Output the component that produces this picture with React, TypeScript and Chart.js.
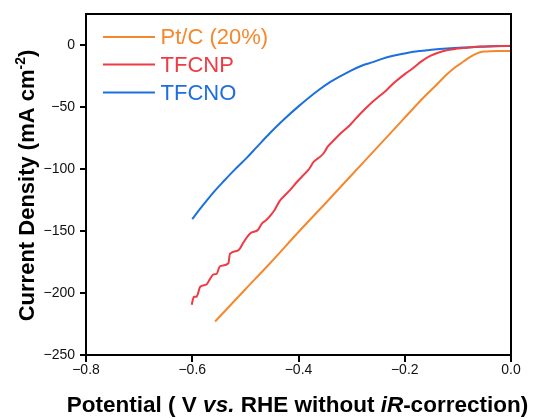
import { useEffect, useRef } from 'react';
import { Chart, registerables } from 'chart.js';

Chart.register(...registerables);

const seriesNames = ['Pt/C (20%)', 'TFCNP', 'TFCNO'];
const seriesColors = ['#F5882C', '#EE3B44', '#1D6FDE'];

const ptcPotential = [-0.557, -0.5, -0.4536, -0.4, -0.35, -0.3, -0.25, -0.203, -0.165, -0.14, -0.121, -0.105, -0.09, -0.075, -0.065, -0.058, -0.05, -0.04, -0.02, 0];
const ptcCurrent = [-223, -197, -176, -150.8, -128, -104.8, -81.8, -60, -42.5, -32, -23.8, -18, -13.5, -9.2, -7, -5.9, -5.3, -5, -4.9, -4.8];

const tfcnpPotential = [-0.601, -0.597, -0.592, -0.585, -0.573, -0.567, -0.56, -0.554, -0.548, -0.532, -0.529, -0.515, -0.51, -0.504, -0.491, -0.476, -0.469, -0.46, -0.45, -0.445, -0.435, -0.425, -0.416, -0.403, -0.391, -0.38, -0.372, -0.362, -0.353, -0.345, -0.334, -0.32, -0.303, -0.285, -0.265, -0.247, -0.234, -0.22, -0.2, -0.184, -0.168, -0.152, -0.136, -0.121, -0.105, -0.09, -0.074, -0.058, -0.04, -0.02, 0];
const tfcnpCurrent = [-209.5, -203, -203, -195, -193, -189, -185, -184.5, -178.5, -176, -168.5, -166, -164, -159.5, -152, -149, -144, -141, -136, -133, -125.5, -121, -117, -110.5, -105, -100, -94.5, -91, -87.5, -82, -77, -71, -64.5, -56, -47.5, -41, -36.2, -30.5, -23.5, -18.5, -13, -8.8, -6, -4.2, -3.2, -2.5, -1.8, -1.3, -1, -0.8, -0.7];

const tfcnoPotential = [-0.6, -0.585, -0.5604, -0.54, -0.52, -0.4975, -0.48, -0.4536, -0.4286, -0.4, -0.3657, -0.34, -0.3031, -0.28, -0.26, -0.247, -0.2278, -0.2, -0.184, -0.15, -0.121, -0.09, -0.058, -0.03, 0];
const tfcnoCurrent = [-140.5, -132, -119, -109.5, -100.5, -91, -83, -71, -60.5, -49.5, -37.5, -29.8, -21, -16.5, -13.8, -11.8, -9.2, -6.8, -5.5, -3.9, -2.8, -2, -1.5, -1.1, -0.8];

const xTickValues = [-0.8, -0.6, -0.4, -0.2, 0];
const yTickValues = [-250, -200, -150, -100, -50, 0];

const xTitleParts: [string, boolean][] = [
  ['Potential ( V ', false],
  ['vs.', true],
  [' RHE without ', false],
  ['iR', true],
  ['-correction)', false],
];
const yTitleMain = 'Current Density (mA cm';
const yTitleSup = '-2';
const yTitleEnd = ')';

const FONT = '"Liberation Sans", Arial, Helvetica, sans-serif';

function toPoints(xs: number[], ys: number[]) {
  return xs.map((x, i) => ({ x, y: ys[i] }));
}

const decorPlugin = {
  id: 'decor',
  afterDraw(chart: any) {
    const { ctx, chartArea } = chart;
    const { left, right, top, bottom } = chartArea;
    ctx.save();
    // frame
    ctx.strokeStyle = '#000';
    ctx.lineWidth = 2;
    ctx.strokeRect(left, top, right - left, bottom - top);

    // legend
    const legendY = [37, 64.5, 92.5];
    seriesNames.forEach((name, i) => {
      ctx.strokeStyle = seriesColors[i];
      ctx.lineWidth = 2;
      ctx.beginPath();
      ctx.moveTo(103, legendY[i]);
      ctx.lineTo(155, legendY[i]);
      ctx.stroke();
      ctx.fillStyle = seriesColors[i];
      ctx.font = `22px ${FONT}`;
      ctx.textAlign = 'left';
      ctx.textBaseline = 'middle';
      ctx.fillText(name, 160.5, legendY[i] + 1);
    });

    // x title
    ctx.fillStyle = '#000';
    ctx.textBaseline = 'alphabetic';
    ctx.textAlign = 'left';
    const xs = 22.5;
    const widths = xTitleParts.map(([t, it]) => {
      ctx.font = `${it ? 'italic ' : ''}bold ${xs}px ${FONT}`;
      return ctx.measureText(t).width;
    });
    const total = widths.reduce((a, b) => a + b, 0);
    let x = 297.5 - total / 2;
    xTitleParts.forEach(([t, it], i) => {
      ctx.font = `${it ? 'italic ' : ''}bold ${xs}px ${FONT}`;
      ctx.fillText(t, x, 411.5);
      x += widths[i];
    });

    // y title
    ctx.translate(34, 185.5);
    ctx.rotate(-Math.PI / 2);
    ctx.font = `bold 22px ${FONT}`;
    const w1 = ctx.measureText(yTitleMain).width;
    const w3 = ctx.measureText(yTitleEnd).width;
    ctx.font = `bold 14px ${FONT}`;
    const w2 = ctx.measureText(yTitleSup).width;
    let yx = -(w1 + w2 + w3) / 2;
    ctx.font = `bold 22px ${FONT}`;
    ctx.fillText(yTitleMain, yx, 0);
    yx += w1;
    ctx.font = `bold 14px ${FONT}`;
    ctx.fillText(yTitleSup, yx, -9);
    yx += w2;
    ctx.font = `bold 22px ${FONT}`;
    ctx.fillText(yTitleEnd, yx, 0);
    ctx.restore();
  },
};

export default function App() {
  const ref = useRef<HTMLCanvasElement | null>(null);
  useEffect(() => {
    if (!ref.current) return;
    const mk = (i: number, xs: number[], ys: number[]) => ({
      label: seriesNames[i],
      data: toPoints(xs, ys),
      borderColor: seriesColors[i],
      backgroundColor: seriesColors[i],
      borderWidth: 2,
      pointRadius: 0,
      cubicInterpolationMode: 'monotone' as const,
      fill: false,
    });
    const chart = new Chart(ref.current, {
      type: 'line',
      data: {
        datasets: [
          mk(0, ptcPotential, ptcCurrent),
          mk(1, tfcnpPotential, tfcnpCurrent),
          mk(2, tfcnoPotential, tfcnoCurrent),
        ],
      },
      options: {
        animation: false,
        responsive: false,
        devicePixelRatio: 1,
        layout: { padding: { left: 0, top: 14, right: 23, bottom: 0 } },
        plugins: { legend: { display: false }, tooltip: { enabled: false } },
        scales: {
          x: {
            type: 'linear',
            min: -0.8,
            max: 0,
            afterBuildTicks: (s: any) => {
              s.ticks = xTickValues.map((v) => ({ value: v }));
            },
            afterFit: (s: any) => {
              s.height = 64;
            },
            grid: { drawOnChartArea: false, drawTicks: true, tickLength: 7, color: '#000', lineWidth: 2 },
            border: { display: false },
            ticks: {
              color: '#111',
              font: { family: FONT, size: 14 },
              padding: 0,
              maxRotation: 0,
              callback: (v: any) => (Number(v) === 0 ? '0.0' : '\u2212' + Math.abs(Number(v)).toFixed(1)),
            },
          },
          y: {
            type: 'linear',
            min: -250,
            max: 25,
            afterBuildTicks: (s: any) => {
              s.ticks = yTickValues.map((v) => ({ value: v }));
            },
            afterFit: (s: any) => {
              s.width = 86;
            },
            grid: { drawOnChartArea: false, drawTicks: true, tickLength: 6, color: '#000', lineWidth: 2 },
            border: { display: false },
            ticks: {
              color: '#111',
              font: { family: FONT, size: 14 },
              padding: 5,
              callback: (v: any) => (Number(v) < 0 ? '\u2212' + Math.abs(Number(v)) : String(v)),
            },
          },
        },
      },
      plugins: [decorPlugin],
    });
    return () => chart.destroy();
  }, []);
  return (
    <div style={{ position: 'fixed', left: 0, top: 0, width: 534, height: 419, background: '#fff' }}>
      <canvas ref={ref} width={534} height={419} style={{ width: 534, height: 419, display: 'block' }} />
    </div>
  );
}
